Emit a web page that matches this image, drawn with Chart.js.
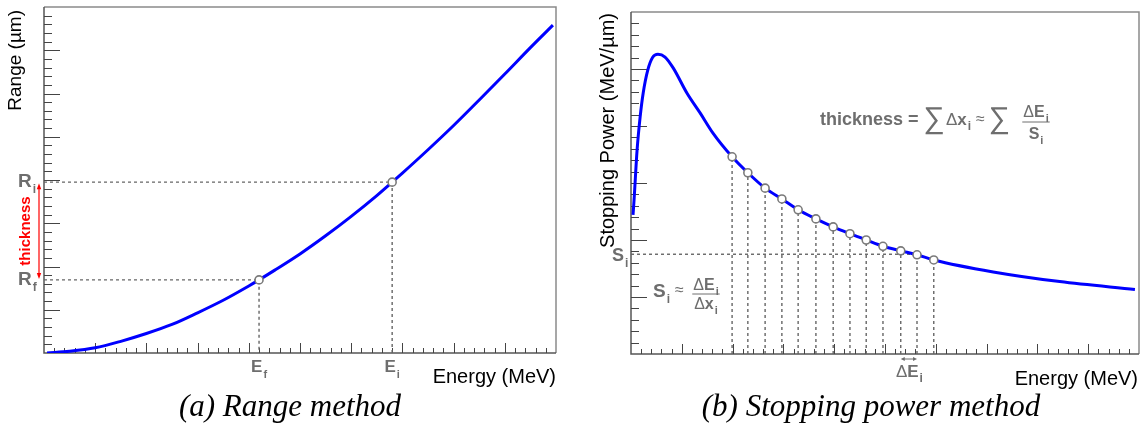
<!DOCTYPE html>
<html>
<head>
<meta charset="utf-8">
<script src="https://cdn.jsdelivr.net/npm/chart.js@4.4.1/dist/chart.umd.min.js"></script>
<style>
  body { margin: 0; background: #fff; width: 1146px; height: 432px; position: relative; overflow: hidden; }
  canvas { position: absolute; left: 0; top: 0; }
  .caption { position: absolute; top: 391px; width: 400px; font: italic 31px 'Liberation Serif', serif; line-height: 30px; text-align: center; white-space: nowrap; color: #000; }
</style>
</head>
<body>
<canvas id="rangeChart" width="1146" height="432"></canvas>
<canvas id="stopChart" width="1146" height="432"></canvas>
<div class="caption" style="left:90px">(a) Range method</div>
<div class="caption" style="left:671px">(b) Stopping power method</div>
<script>
// Panel (a): range vs energy (axis units, no tick labels on the original)
const rangeEnergy = [0.06, 0.5, 1.0, 1.5, 2.0, 2.5, 3.0, 3.5, 4.0, 4.2, 4.5, 5.0, 5.5, 6.0, 6.5, 6.8, 7.0, 7.5, 8.0, 8.5, 9.0, 9.5, 9.94];
const rangeValues = [0.0, 0.04, 0.12, 0.27, 0.45, 0.66, 0.93, 1.22, 1.55, 1.69, 1.91, 2.29, 2.71, 3.16, 3.64, 3.95, 4.16, 4.70, 5.26, 5.85, 6.45, 7.06, 7.58];
const rangeMarkE = [4.2, 6.8];      // E_f, E_i
const rangeMarkR = [1.69, 3.95];    // R_f, R_i
const rangeMarkSub = ['f', 'i'];
const rangeAxisX = [0, 10];
const rangeAxisY = [0, 8];

// Panel (b): stopping power vs energy
const stopEnergy = [0.04, 0.06, 0.12, 0.18, 0.24, 0.33, 0.43, 0.53, 0.67, 0.83, 1.10, 1.36, 1.61, 1.99, 2.30, 2.64, 2.97, 3.29, 3.64, 3.98, 4.31, 4.63, 4.96, 5.31, 5.63, 5.96, 7.13, 8.44, 9.92];
const stopValues = [2.44, 2.70, 3.58, 4.16, 4.58, 4.98, 5.21, 5.26, 5.21, 5.02, 4.58, 4.23, 3.88, 3.46, 3.18, 2.91, 2.72, 2.53, 2.37, 2.23, 2.11, 2.00, 1.89, 1.81, 1.74, 1.65, 1.44, 1.27, 1.13];
const stepEnergy = [1.99, 2.30, 2.64, 2.97, 3.29, 3.64, 3.98, 4.31, 4.63, 4.96, 5.31, 5.63, 5.96];
const stepPower = [3.46, 3.18, 2.91, 2.72, 2.53, 2.37, 2.23, 2.11, 2.00, 1.89, 1.81, 1.74, 1.65];
const siLevel = 1.75;
const siStep = 11;            // S_i line ends at this step
const deltaSteps = [10, 11];  // steps bracketing the ΔE_i arrow
const stopAxisX = [0, 10];
const stopAxisY = [0, 6];

const MINOR_PER_UNIT = 5;
const TEXT_GRAY = '#6e6e6e';
const SANS = "'Liberation Sans', Arial, sans-serif";

const curveStyle = { showLine: true, borderColor: '#0000ff', borderWidth: 3, pointRadius: 0, cubicInterpolationMode: 'monotone', order: 1 };
const guideStyle = { showLine: true, borderColor: '#666', borderWidth: 1.4, borderDash: [3, 3], pointRadius: 0, order: 2 };
const markStyle = { showLine: false, pointRadius: 4, pointBorderWidth: 1.6, pointBorderColor: '#7a7a7a', pointBackgroundColor: '#fff', order: 0 };

const toXY = (xs, ys) => xs.map((x, i) => ({ x, y: ys[i] }));

function baseOptions(padding, ax, ay) {
    const hidden = { ticks: { display: false }, grid: { display: false, drawTicks: false }, border: { display: false } };
    return {
        responsive: false,
        animation: false,
        devicePixelRatio: 1,
        layout: { padding },
        plugins: { legend: { display: false }, tooltip: { enabled: false } },
        scales: {
            x: { type: 'linear', min: ax[0], max: ax[1], ...hidden },
            y: { type: 'linear', min: ay[0], max: ay[1], ...hidden }
        }
    };
}

// Frame, axes and ticks drawn from the chart's own scales
function drawFrame(chart, tickX, tickY) {
    const { ctx, chartArea: a, scales: { x, y } } = chart;
    ctx.save();
    ctx.lineWidth = 1.5;
    ctx.strokeStyle = '#8a8a8a';
    ctx.beginPath();
    ctx.moveTo(a.left, a.top); ctx.lineTo(a.right, a.top); ctx.lineTo(a.right, a.bottom);
    ctx.stroke();
    ctx.strokeStyle = '#555';
    ctx.beginPath();
    ctx.moveTo(a.left, a.top); ctx.lineTo(a.left, a.bottom); ctx.lineTo(a.right, a.bottom);
    ctx.stroke();

    ctx.lineWidth = 1;
    ctx.strokeStyle = '#444';
    ctx.beginPath();
    const nx = (x.max - x.min) * MINOR_PER_UNIT;
    for (let k = 1; k < nx; k++) {
        const px = Math.round(x.getPixelForValue(x.min + k / MINOR_PER_UNIT)) + 0.5;
        const len = k % MINOR_PER_UNIT === 0 ? tickX[0] : tickX[1];
        ctx.moveTo(px, a.bottom); ctx.lineTo(px, a.bottom - len);
    }
    const ny = (y.max - y.min) * MINOR_PER_UNIT;
    for (let k = 1; k < ny; k++) {
        const py = Math.round(y.getPixelForValue(y.min + k / MINOR_PER_UNIT)) + 0.5;
        const len = k % MINOR_PER_UNIT === 0 ? tickY[0] : tickY[1];
        ctx.moveTo(a.left, py); ctx.lineTo(a.left + len, py);
    }
    ctx.stroke();
    ctx.restore();
}

function text(ctx, str, x, y, font, color = TEXT_GRAY, align = 'left') {
    ctx.font = font;
    ctx.fillStyle = color;
    ctx.textAlign = align;
    ctx.textBaseline = 'alphabetic';
    ctx.fillText(str, x, y);
    return ctx.measureText(str).width;
}

// base + subscript, returns total width
function subText(ctx, base, sub, x, y, size, subSize, drop, center = false) {
    ctx.font = `bold ${size}px ${SANS}`;
    const wb = ctx.measureText(base).width;
    ctx.font = `bold ${subSize}px ${SANS}`;
    const ws = ctx.measureText(sub).width;
    const x0 = center ? x - (wb + ws + 1) / 2 : x;
    text(ctx, base, x0, y, `bold ${size}px ${SANS}`);
    text(ctx, sub, x0 + wb + 1, y + drop, `bold ${subSize}px ${SANS}`);
    return wb + ws + 1;
}

function rotated(ctx, str, x, y, font, color, align) {
    ctx.save();
    ctx.translate(x, y);
    ctx.rotate(-Math.PI / 2);
    text(ctx, str, 0, 0, font, color, align);
    ctx.restore();
}

function arrowHead(ctx, x, y, dx, dy, len, half) {
    ctx.beginPath();
    ctx.moveTo(x, y);
    ctx.lineTo(x - dx * len - dy * half, y - dy * len + dx * half);
    ctx.lineTo(x - dx * len + dy * half, y - dy * len - dx * half);
    ctx.closePath();
    ctx.fill();
}

const rangeDecor = {
    id: 'rangeDecor',
    beforeDatasetsDraw(chart) { drawFrame(chart, [10, 5], [16, 8]); },
    afterDraw(chart) {
        const { ctx, scales: { x, y } } = chart;
        ctx.save();
        rotated(ctx, 'Range (µm)', 21, 10, `19px ${SANS}`, '#000', 'right');
        text(ctx, 'Energy (MeV)', 556, 383, `20px ${SANS}`, '#000', 'right');
        rangeMarkE.forEach((e, i) => {
            subText(ctx, 'E', rangeMarkSub[i], x.getPixelForValue(e), 372, 17, 11, 6, true);
            subText(ctx, 'R', rangeMarkSub[i], 18, y.getPixelForValue(rangeMarkR[i]) + 5, 19, 12, 6);
        });
        // red thickness arrow between R_f and R_i
        const yTop = y.getPixelForValue(rangeMarkR[1]) + 1;
        const yBot = y.getPixelForValue(rangeMarkR[0]) - 1;
        ctx.strokeStyle = '#ff0000';
        ctx.fillStyle = '#ff0000';
        ctx.lineWidth = 1.2;
        ctx.beginPath(); ctx.moveTo(39, yTop + 4); ctx.lineTo(39, yBot - 4); ctx.stroke();
        arrowHead(ctx, 39, yTop, 0, -1, 6, 2.2);
        arrowHead(ctx, 39, yBot, 0, 1, 6, 2.2);
        ctx.save();
        ctx.translate(26, (yTop + yBot) / 2);
        ctx.rotate(-Math.PI / 2);
        ctx.textBaseline = 'middle';
        ctx.textAlign = 'center';
        ctx.font = `bold 15px ${SANS}`;
        ctx.fillStyle = '#ff0000';
        ctx.fillText('thickness', 0, 0);
        ctx.restore();
        ctx.restore();
    }
};

function fraction(ctx, cx, top, bot, barY, num, den, size) {
    const wn = measureSub(ctx, num, size);
    const wd = measureSub(ctx, den, size);
    drawDeltaSub(ctx, num, cx - wn / 2, top, size);
    drawDeltaSub(ctx, den, cx - wd / 2, bot, size);
    const w = Math.max(wn, wd) + 2;
    ctx.strokeStyle = TEXT_GRAY;
    ctx.lineWidth = 1;
    ctx.beginPath(); ctx.moveTo(cx - w / 2, barY); ctx.lineTo(cx + w / 2, barY); ctx.stroke();
    return w;
}

// parts: [prefix(normal), base(bold), sub]
function measureSub(ctx, parts, size) {
    ctx.font = `${size}px ${SANS}`; const a = ctx.measureText(parts[0]).width;
    ctx.font = `bold ${size}px ${SANS}`; const b = ctx.measureText(parts[1]).width;
    ctx.font = `bold ${Math.round(size * 0.68)}px ${SANS}`; const c = ctx.measureText(parts[2]).width;
    return a + b + c + 1;
}

function drawDeltaSub(ctx, parts, x, y, size) {
    let cx = x;
    cx += text(ctx, parts[0], cx, y, `${size}px ${SANS}`);
    cx += text(ctx, parts[1], cx, y, `bold ${size}px ${SANS}`) + 1;
    cx += text(ctx, parts[2], cx, y + Math.round(size * 0.3), `bold ${Math.round(size * 0.68)}px ${SANS}`);
    return cx - x;
}

const stopDecor = {
    id: 'stopDecor',
    beforeDatasetsDraw(chart) { drawFrame(chart, [10, 5], [16, 8]); },
    afterDraw(chart) {
        const { ctx, scales: { x, y } } = chart;
        ctx.save();
        rotated(ctx, 'Stopping Power (MeV/µm)', 614, 13, `20px ${SANS}`, '#000', 'right');
        text(ctx, 'Energy (MeV)', 1138, 385, `20px ${SANS}`, '#000', 'right');

        subText(ctx, 'S', 'i', 612, y.getPixelForValue(siLevel) + 7, 18, 12, 6);

        // ΔE_i arrow and label under the axis
        const x1 = x.getPixelForValue(stepEnergy[deltaSteps[0]]);
        const x2 = x.getPixelForValue(stepEnergy[deltaSteps[1]]);
        ctx.strokeStyle = TEXT_GRAY; ctx.fillStyle = TEXT_GRAY; ctx.lineWidth = 1;
        ctx.beginPath(); ctx.moveTo(x1 + 3, 359); ctx.lineTo(x2 - 3, 359); ctx.stroke();
        arrowHead(ctx, x1, 359, -1, 0, 4, 2);
        arrowHead(ctx, x2, 359, 1, 0, 4, 2);
        drawDeltaSub(ctx, ['Δ', 'E', 'i'], (x1 + x2) / 2 - 13, 377, 17);

        // S_i ≈ ΔE_i / Δx_i
        const w = subText(ctx, 'S', 'i', 653, 297, 19, 12, 6);
        text(ctx, '≈', 653 + w + 5, 295, `16px ${SANS}`);
        fraction(ctx, 706, 290, 309, 294, ['Δ', 'E', 'i'], ['Δ', 'x', 'i'], 16);

        // thickness = ΣΔx_i ≈ Σ ΔE_i / S_i
        let cx = 820;
        cx += text(ctx, 'thickness = ', cx, 125, `bold 18px ${SANS}`);
        cx += text(ctx, '∑', cx, 128, `30px ${SANS}`) + 1;
        cx += drawDeltaSub(ctx, ['Δ', 'x', 'i'], cx, 125, 17) + 5;
        cx += text(ctx, '≈', cx, 124, `16px ${SANS}`) + 4;
        cx += text(ctx, '∑', cx, 128, `30px ${SANS}`);
        fraction(ctx, Math.max(cx + 24, 1036), 117, 139, 122, ['Δ', 'E', 'i'], ['', 'S', 'i'], 16);
        ctx.restore();
    }
};

document.addEventListener('DOMContentLoaded', () => {
    new Chart(document.getElementById('rangeChart'), {
        type: 'scatter',
        data: {
            datasets: [
                { data: toXY(rangeMarkE, rangeMarkR), ...markStyle },
                { data: toXY(rangeEnergy, rangeValues), ...curveStyle },
                ...rangeMarkE.map((e, i) => ({
                    data: [{ x: rangeAxisX[0], y: rangeMarkR[i] }, { x: e, y: rangeMarkR[i] }, { x: e, y: rangeAxisY[0] }],
                    ...guideStyle
                }))
            ]
        },
        options: baseOptions({ left: 44, right: 590, top: 7, bottom: 79 }, rangeAxisX, rangeAxisY),
        plugins: [rangeDecor]
    });

    new Chart(document.getElementById('stopChart'), {
        type: 'scatter',
        data: {
            datasets: [
                { data: toXY(stepEnergy, stepPower), ...markStyle },
                { data: toXY(stopEnergy, stopValues), ...curveStyle },
                { data: [{ x: stopAxisX[0], y: siLevel }, { x: stepEnergy[siStep], y: siLevel }], ...guideStyle },
                ...stepEnergy.map((e, i) => ({
                    data: [{ x: e, y: stopAxisY[0] }, { x: e, y: stepPower[i] }],
                    ...guideStyle
                }))
            ]
        },
        options: baseOptions({ left: 631, right: 7, top: 12, bottom: 78 }, stopAxisX, stopAxisY),
        plugins: [stopDecor]
    });
});
</script>
</body>
</html>
